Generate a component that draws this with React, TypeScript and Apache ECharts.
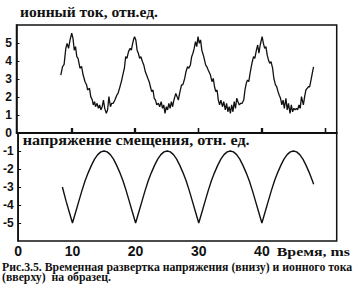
import React, { useEffect, useRef } from "react";
import * as echarts from "echarts";

// Ion current (top panel), time in ms
const currentTime = [
  8.38, 8.65, 8.9, 9.17, 9.37, 9.6, 9.84, 10.1, 10.3, 10.5, 10.7, 10.9, 11.1, 11.4, 11.65, 11.9,
  12.2, 12.45, 12.6, 12.9, 13.1, 13.35, 13.5, 13.7, 13.85, 14.1, 14.3, 14.5, 14.7, 14.9, 15.1, 15.3,
  15.55, 15.75, 15.96, 16.2, 16.4, 16.65, 16.9, 17.2, 17.4, 17.7, 17.95, 18.2, 18.4, 18.6, 18.8, 19.05,
  19.3, 19.5, 19.7, 19.9, 20.0, 20.2, 20.4, 20.6, 20.8, 21.0, 21.25, 21.45, 21.7, 21.9, 22.1, 22.3,
  22.5, 22.7, 22.9, 23.1, 23.3, 23.5, 23.75, 23.96, 24.2, 24.4, 24.6, 24.8, 25.0, 25.2, 25.4, 25.6,
  25.8, 26.0, 26.2, 26.5, 26.7, 26.9, 27.1, 27.4, 27.6, 27.9, 28.1, 28.35, 28.55, 28.8, 29.0, 29.2,
  29.4, 29.6, 29.8, 30.0, 30.2, 30.4, 30.6, 30.9, 31.2, 31.4, 31.6, 31.96, 32.2, 32.4, 32.6, 32.8,
  33.0, 33.2, 33.4, 33.6, 33.85, 34.05, 34.3, 34.5, 34.7, 34.9, 35.1, 35.3, 35.5, 35.7, 35.9, 36.1,
  36.3, 36.5, 36.75, 36.95, 37.2, 37.4, 37.6, 37.8, 38.0, 38.2, 38.35, 38.55, 38.75, 38.95, 39.2, 39.4,
  39.6, 39.8, 40.1, 40.3, 40.5, 40.7, 40.9, 41.1, 41.3, 41.5, 41.75, 41.95, 42.2, 42.4, 42.6, 42.8,
  43.0, 43.2, 43.4, 43.6, 43.85, 44.05, 44.25, 44.5, 44.7, 44.9, 45.1, 45.3, 45.5, 45.7, 45.9, 46.1,
  46.3, 46.6, 46.8, 47.0, 47.2, 47.4, 47.6, 47.8, 48.0, 48.2,
];
const currentValue = [
  3.22, 3.68, 3.81, 4.7, 4.98, 4.7, 5.17, 5.54, 5.26, 4.6, 4.8, 4.24, 4.15, 3.6, 3.7, 3.22,
  2.85, 2.67, 2.39, 2.48, 2.02, 1.83, 1.56, 1.74, 1.46, 1.65, 1.37, 1.56, 1.28, 1.46, 1.83, 1.37,
  1.09, 1.28, 2.02, 1.46, 1.65, 1.65, 1.83, 2.1, 2.2, 2.57, 2.9, 3.3, 3.6, 4.24, 4.15, 4.52,
  4.7, 4.6, 4.98, 5.26, 5.35, 5.17, 4.6, 4.43, 4.15, 4.24, 3.96, 3.78, 3.4, 3.22, 3.03, 2.85,
  2.57, 2.3, 2.39, 1.93, 1.83, 1.56, 1.65, 1.46, 1.74, 1.37, 1.56, 1.09, 1.46, 1.28, 1.65, 1.37,
  1.74, 1.46, 1.83, 2.2, 2.02, 1.83, 2.2, 2.67, 2.67, 3.03, 3.4, 3.68, 3.6, 3.78, 4.24, 4.43,
  4.7, 5.07, 4.8, 5.35, 4.98, 5.17, 4.6, 4.24, 3.78, 3.68, 3.5, 3.22, 2.85, 3.03, 2.57, 2.3,
  2.39, 1.83, 1.56, 1.83, 1.46, 1.74, 1.28, 1.65, 1.18, 1.46, 1.09, 1.56, 1.18, 1.74, 1.37, 1.93,
  1.74, 1.56, 1.65, 1.65, 1.83, 2.39, 2.76, 2.94, 2.85, 3.31, 3.6, 3.96, 4.24, 4.15, 4.6, 4.89,
  4.43, 4.89, 5.35, 4.98, 4.7, 4.8, 4.33, 4.06, 3.87, 3.96, 3.6, 3.03, 2.67, 2.57, 2.3, 2.1,
  1.93, 1.56, 1.83, 1.37, 1.93, 1.28, 1.65, 1.09, 1.56, 1.18, 1.37, 1.28, 1.37, 1.28, 1.56, 1.37,
  2.02, 1.56, 2.02, 2.39, 2.48, 2.57, 2.57, 2.94, 3.31, 3.68,
];

// Bias voltage (bottom panel), time in ms
const biasTime = [
  8.4, 9, 9.5, 10, 10.5, 11, 11.5, 12, 12.5, 13, 13.5, 14, 14.5, 15, 15.5, 16, 16.5, 17, 17.5, 18,
  18.5, 19, 19.5, 20, 20.5, 21, 21.5, 22, 22.5, 23, 23.5, 24, 24.5, 25, 25.5, 26, 26.5, 27, 27.5, 28,
  28.5, 29, 29.5, 30, 30.5, 31, 31.5, 32, 32.5, 33, 33.5, 34, 34.5, 35, 35.5, 36, 36.5, 37, 37.5, 38,
  38.5, 39, 39.5, 40, 40.5, 41, 41.5, 42, 42.5, 43, 43.5, 44, 44.5, 45, 45.5, 46, 46.5, 47, 47.5, 48,
  48.2,
];
const biasValue = [
  -3.0, -3.8, -4.4, -5.0, -4.4, -3.8, -3.2, -2.65, -2.2, -1.8, -1.45, -1.2, -1.05, -1.0, -1.05, -1.2, -1.45, -1.8, -2.2, -2.65,
  -3.2, -3.8, -4.4, -5.0, -4.4, -3.8, -3.2, -2.65, -2.2, -1.8, -1.45, -1.2, -1.05, -1.0, -1.05, -1.2, -1.45, -1.8, -2.2, -2.65,
  -3.2, -3.8, -4.4, -5.0, -4.4, -3.8, -3.2, -2.65, -2.2, -1.8, -1.45, -1.2, -1.05, -1.0, -1.05, -1.2, -1.45, -1.8, -2.2, -2.65,
  -3.2, -3.8, -4.4, -5.0, -4.4, -3.8, -3.2, -2.65, -2.2, -1.8, -1.45, -1.2, -1.05, -1.0, -1.05, -1.2, -1.45, -1.8, -2.2, -2.65,
  -2.85,
];

const X_MIN = 1.4;
const X_MAX = 51.85;
const xTickValues = [10, 20, 30, 40, 50];
const xLabelValues = [X_MIN, 10, 20, 30, 40];

const topTitle = "ионный ток, отн.ед.";
const bottomTitle = "напряжение смещения, отн. ед.";
const xName = "Время, ms";
const captionLine1 = "Рис.3.5. Временная развертка напряжения (внизу) и ионного тока";
const captionLine2 = "(вверху)  на образец.";

const SERIF = "Liberation Serif";
const SANS = "Liberation Sans";

// horizontal stretch so that a text spans the same width as in the reference
function fitScale(text: string, size: number, target: number): number {
  const ctx = document.createElement("canvas").getContext("2d");
  if (!ctx) return 1;
  ctx.font = `bold ${size}px "${SERIF}"`;
  const w = ctx.measureText(text).width;
  return w > 0 ? target / w : 1;
}

export default function App() {
  const ref = useRef<HTMLDivElement>(null);
  useEffect(() => {
    const chart = echarts.init(ref.current!, undefined, { renderer: "svg" });
    const yLabelStyle = { color: "#111", fontFamily: SANS, fontWeight: "bold" as const, fontSize: 12 };
    const xCommon = {
      type: "value" as const,
      min: X_MIN,
      max: X_MAX,
      axisLine: { show: true, lineStyle: { color: "#111", width: 1.5 } },
      axisTick: { show: true, inside: true, length: 5, customValues: xTickValues, lineStyle: { color: "#111", width: 1.3 } },
      splitLine: { show: false },
    };
    const serifText = (text: string, x: number, y: number, size: number, target: number, extra: any = {}) => ({
      type: "text",
      x,
      y,
      scaleX: fitScale(text.split("\n")[0], size, target),
      style: {
        text,
        x: 0,
        y: 0,
        align: "left",
        verticalAlign: "middle",
        fontFamily: SERIF,
        fontWeight: "bold",
        fontSize: size,
        fill: "#111",
        ...extra,
      },
    });
    chart.setOption({
      animation: false,
      backgroundColor: "#fff",
      grid: [
        { left: 16.5, right: 17.3, top: 25, height: 108, show: true, borderColor: "#111", borderWidth: 1.5, backgroundColor: "transparent" },
        { left: 16.5, right: 17.3, top: 133, height: 108, show: true, borderColor: "#111", borderWidth: 1.5, backgroundColor: "transparent" },
      ],
      xAxis: [
        { ...xCommon, gridIndex: 0, axisLabel: { show: false } },
        {
          ...xCommon,
          gridIndex: 1,
          axisLabel: {
            color: "#111",
            fontFamily: SANS,
            fontWeight: "bold",
            fontSize: 14,
            margin: 3,
            customValues: xLabelValues,
            formatter: (v: number) => (v < 5 ? "0" : String(v)),
          },
        },
      ],
      yAxis: [
        {
          type: "value",
          gridIndex: 0,
          min: 0,
          max: 6,
          interval: 1,
          axisLine: { show: true, lineStyle: { color: "#111", width: 1.5 } },
          axisTick: { show: true, inside: true, length: 3, lineStyle: { color: "#111" } },
          splitLine: { show: false },
          axisLabel: { ...yLabelStyle, margin: 4.5, showMaxLabel: false },
        },
        {
          type: "value",
          gridIndex: 1,
          min: -6,
          max: 0,
          interval: 1,
          axisLine: { show: true, lineStyle: { color: "#111", width: 1.5 } },
          axisTick: { show: true, inside: true, length: 3, lineStyle: { color: "#111" } },
          splitLine: { show: false },
          axisLabel: { ...yLabelStyle, margin: 4.5, showMaxLabel: false, showMinLabel: false },
        },
      ],
      series: [
        {
          type: "line",
          xAxisIndex: 0,
          yAxisIndex: 0,
          data: currentTime.map((t, i) => [t, currentValue[i]]),
          showSymbol: false,
          lineStyle: { color: "#111", width: 1.3 },
        },
        {
          type: "line",
          xAxisIndex: 1,
          yAxisIndex: 1,
          data: biasTime.map((t, i) => [t, biasValue[i]]),
          showSymbol: false,
          lineStyle: { color: "#111", width: 1.4 },
        },
      ],
      graphic: [
        serifText(topTitle, 20, 12, 14.5, 138),
        serifText(bottomTitle, 22.7, 139.5, 14.5, 227),
        serifText(xName, 276.7, 251.2, 13, 73.3),
        serifText(captionLine1 + "\n" + captionLine2, 2, 272, 12, 351, { lineHeight: 10.5 }),
      ],
    });
    return () => chart.dispose();
  }, []);
  return <div ref={ref} style={{ width: 354, height: 299, position: "absolute", left: 0, top: 0 }} />;
}
